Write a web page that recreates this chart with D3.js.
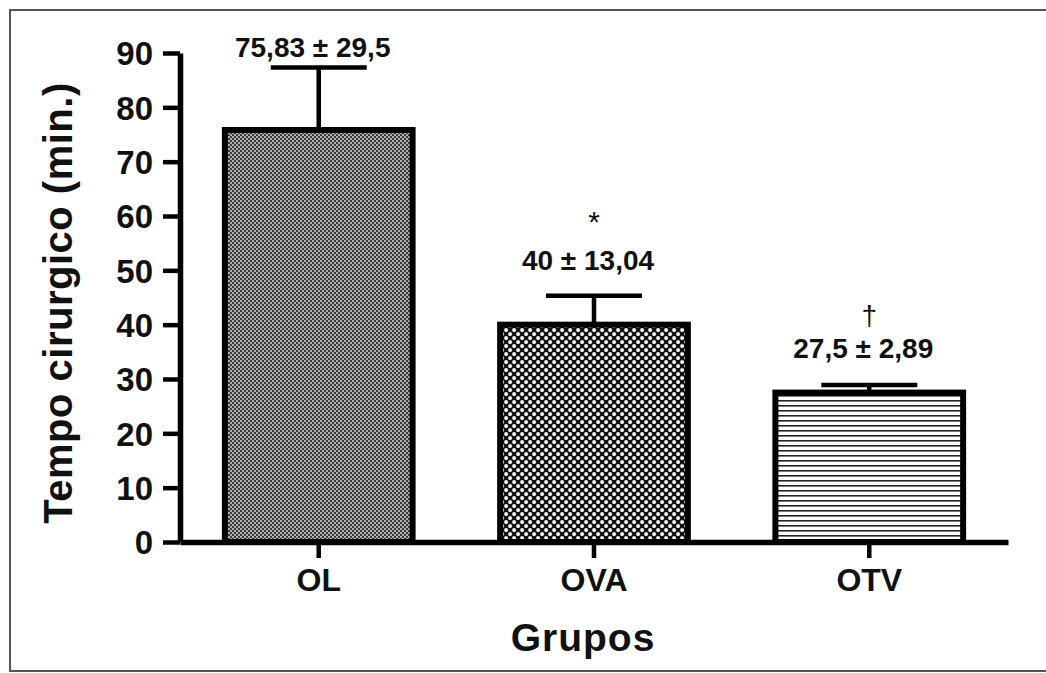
<!DOCTYPE html>
<html><head><meta charset="utf-8">
<script src="https://cdn.jsdelivr.net/npm/d3@7/dist/d3.min.js"></script>
<style>
html,body{margin:0;padding:0;background:#fff;}
svg{display:block;}
text{font-family:"Liberation Sans",Arial,sans-serif;font-weight:bold;fill:#111;}
</style></head>
<body>
<script>
const categories = ["OL", "OVA", "OTV"];
const means = [75.83, 40, 27.5];
const errors = [11.5, 5.3, 1.4];
const labels = ["75,83 \u00B1 29,5", "40 \u00B1 13,04", "27,5 \u00B1 2,89"];
const marks = ["", "*", "\u2020"];
const yTicks = [0, 10, 20, 30, 40, 50, 60, 70, 80, 90];
const patterns = ["pFine", "pCheck", "pLines"];

const W = 1046, H = 673;
const svg = d3.select("body").append("svg").attr("width", W).attr("height", H);
const defs = svg.append("defs");

// fine dark checker
const p1 = defs.append("pattern").attr("id", "pFine").attr("patternUnits", "userSpaceOnUse").attr("width", 4).attr("height", 4);
p1.append("rect").attr("width", 4).attr("height", 4).attr("fill", "#3a3a3a");
p1.append("rect").attr("x", 0).attr("y", 0).attr("width", 2).attr("height", 2).attr("fill", "#b0b0b0");
p1.append("rect").attr("x", 2).attr("y", 2).attr("width", 2).attr("height", 2).attr("fill", "#b0b0b0");
// coarse checker of white dots
const p2 = defs.append("pattern").attr("id", "pCheck").attr("patternUnits", "userSpaceOnUse").attr("width", 8).attr("height", 8);
p2.append("rect").attr("width", 8).attr("height", 8).attr("fill", "#111");
p2.append("rect").attr("x", 0.3).attr("y", 0.3).attr("width", 3.6).attr("height", 3.6).attr("rx", 1.3).attr("fill", "#fff");
p2.append("rect").attr("x", 4.3).attr("y", 4.3).attr("width", 3.6).attr("height", 3.6).attr("rx", 1.3).attr("fill", "#fff");
// horizontal lines
const p3 = defs.append("pattern").attr("id", "pLines").attr("patternUnits", "userSpaceOnUse").attr("width", 6).attr("height", 5);
p3.append("rect").attr("width", 6).attr("height", 5).attr("fill", "#fff");
p3.append("rect").attr("y", 0).attr("width", 6).attr("height", 1.6).attr("fill", "#222");

// frame
svg.append("path").attr("d", `M${W},10 H10 V671 H${W}`).attr("fill", "none").attr("stroke", "#555").attr("stroke-width", 2);

const y = d3.scaleLinear().domain([0, 90]).range([542, 53]);
const x = d3.scaleBand().domain(categories).range([180, 1008]).paddingInner(0.318).paddingOuter(0.163);

const data = categories.map((c, i) => ({c, m: means[i], e: errors[i], l: labels[i], k: marks[i], p: patterns[i]}));

// bars
svg.append("g").selectAll("rect").data(data).join("rect")
  .attr("x", d => x(d.c)).attr("y", d => y(d.m))
  .attr("width", x.bandwidth()).attr("height", d => y(0) - y(d.m))
  .attr("fill", d => `url(#${d.p})`).attr("stroke", "#000").attr("stroke-width", 6);

// error bars
const eg = svg.append("g").attr("stroke", "#000").attr("stroke-width", 4.5);
eg.selectAll("line.stem").data(data).join("line").attr("class", "stem")
  .attr("x1", d => x(d.c) + x.bandwidth() / 2).attr("x2", d => x(d.c) + x.bandwidth() / 2)
  .attr("y1", d => y(d.m)).attr("y2", d => y(d.m + d.e));
eg.selectAll("line.cap").data(data).join("line").attr("class", "cap")
  .attr("x1", d => x(d.c) + x.bandwidth() / 2 - 48).attr("x2", d => x(d.c) + x.bandwidth() / 2 + 48)
  .attr("y1", d => y(d.m + d.e)).attr("y2", d => y(d.m + d.e));

// value labels
const lblOffset = [11, 26, 27];
svg.append("g").selectAll("text").data(data).join("text")
  .attr("x", d => x(d.c) + x.bandwidth() / 2 - 6)
  .attr("y", (d, i) => y(d.m + d.e) - lblOffset[i])
  .attr("text-anchor", "middle").attr("font-size", 28).text(d => d.l);
// significance marks
svg.append("g").selectAll("text").data(data).join("text")
  .attr("x", d => x(d.c) + x.bandwidth() / 2)
  .attr("y", (d, i) => y(d.m + d.e) - 60 - (i === 1 ? 4 : 0))
  .attr("text-anchor", "middle").attr("font-size", d => d.k === "*" ? 30 : 28)
  .style("font-weight", "normal").text(d => d.k);

// axes
const yAxis = svg.append("g").attr("transform", "translate(180,0)")
  .call(d3.axisLeft(y).tickValues(yTicks).tickSize(17).tickSizeOuter(0).tickPadding(10));
const xAxis = svg.append("g").attr("transform", "translate(0,542)")
  .call(d3.axisBottom(x).tickSize(16).tickSizeOuter(0).tickPadding(10));
[yAxis, xAxis].forEach(a => {
  a.select(".domain").attr("stroke", "#000").attr("stroke-width", 5.5);
  a.selectAll(".tick line").attr("stroke", "#000").attr("stroke-width", 4.5);
  a.selectAll(".tick text").attr("fill", "#111").attr("font-size", 33)
    .attr("font-family", "'Liberation Sans',Arial,sans-serif").attr("font-weight", "bold");
});
yAxis.selectAll(".tick text").attr("dy", "0.36em");
xAxis.selectAll(".tick text").attr("dy", "0.72em").attr("font-size", 32);

// titles
svg.append("text").attr("transform", "translate(72,303) rotate(-90)")
  .attr("text-anchor", "middle").attr("font-size", 40).attr("letter-spacing", 0.5).text("Tempo cirurgico (min.)");
svg.append("text").attr("x", 583).attr("y", 651)
  .attr("text-anchor", "middle").attr("font-size", 39).attr("letter-spacing", 1).text("Grupos");
</script>
</body></html>
